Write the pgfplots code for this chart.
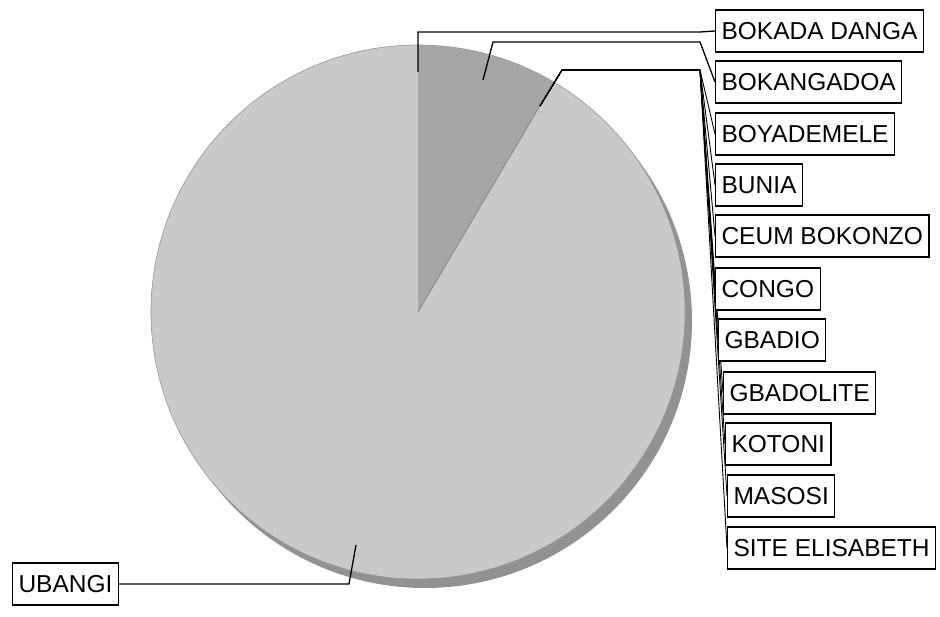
\documentclass[border=0pt]{standalone}
\usepackage{pgfplots}
\usepackage{pgfplotstable}
\pgfplotsset{compat=1.18}
\usepackage{fontspec}
\setmainfont{Liberation Sans}
\definecolor{pielight}{RGB}{201,201,201}
\definecolor{piedark}{RGB}{166,166,166}
\definecolor{pierim}{RGB}{146,146,146}
\definecolor{pieedge}{RGB}{150,150,150}

\pgfplotstableread[col sep=comma]{
name,value
BOKADA DANGA,0
BOKANGADOA,8.5
BOYADEMELE,0
BUNIA,0
CEUM BOKONZO,0
CONGO,0
GBADIO,0
GBADOLITE,0
KOTONI,0
MASOSI,0
SITE ELISABETH,0
UBANGI,91.5
}\piedata

% total and cumulative angles
\xdef\tot{0}
\pgfplotstableforeachcolumnelement{value}\of\piedata\as\v{%
  \pgfmathsetmacro\t{\tot+\v}\xdef\tot{\t}}
\pgfplotstablegetelem{0}{value}\of\piedata\pgfmathsetmacro\cA{\pgfplotsretval}
\pgfplotstablegetelem{1}{value}\of\piedata\pgfmathsetmacro\cB{\cA+\pgfplotsretval}
\pgfplotstablegetelem{11}{value}\of\piedata\pgfmathsetmacro\vU{\pgfplotsretval}
\pgfmathsetmacro\sB{90-360*\cA/\tot}
\pgfmathsetmacro\eB{90-360*\cB/\tot}
\pgfmathsetmacro\sU{90-360*(\tot-\vU)/\tot}
\pgfmathsetmacro\eU{90-360}

\tikzset{lab/.style={draw=black, line width=1.1pt, fill=white, anchor=west,
  font=\fontsize{24.5}{28}\selectfont, inner xsep=6pt, inner ysep=0pt,
  minimum height=42pt, text height=17.5pt, text depth=0pt},
  lead/.style={black, line width=1.3pt}}

\begin{document}
\begin{tikzpicture}
\begin{axis}[scale only axis, width=940pt, height=606pt,
  xmin=0, xmax=940, ymin=-606, ymax=0, hide axis, clip=false]
\path (axis cs:0,0) rectangle (axis cs:940,-606);
% shadow rim
\fill[pierim] (axis cs:425,-321) circle[radius=267pt];
% slices
\fill[pielight] (axis cs:418,-312) -- ++(\sU:267pt) arc[start angle=\sU, end angle=\eU, radius=267pt] -- cycle;
\fill[piedark] (axis cs:418,-312) -- ++(\sB:267pt) arc[start angle=\sB, end angle=\eB, radius=267pt] -- cycle;
\draw[pieedge, line width=0.6pt] (axis cs:418,-312) circle[radius=267pt];
\draw[pieedge!80!black, line width=0.5pt] (axis cs:418,-312) -- ++(\eB:267pt);
% leader lines
\draw[lead] (axis cs:418,-72) -- (axis cs:418,-32) -- (axis cs:700,-32) -- (axis cs:715,-31);
\draw[lead] (axis cs:483,-80) -- (axis cs:493,-42) -- (axis cs:700,-42) -- (axis cs:715,-82);
\foreach \yy/\xx in {134/715,185/715,236/715,289/715,340/718,393/723,444/725,496/727,548/727}{
  \edef\tmp{\noexpand\draw[lead, line width=0.9pt] (axis cs:540,-106) -- (axis cs:562,-70) -- (axis cs:700,-70) -- (axis cs:\xx,-\yy);}\tmp
}
\draw[lead] (axis cs:356,-545) -- (axis cs:349,-584) -- (axis cs:118,-584);
% labels
\node[lab] at (axis cs:715,-31) {BOKADA DANGA};
\node[lab] at (axis cs:715,-82) {BOKANGADOA};
\node[lab] at (axis cs:715,-134) {BOYADEMELE};
\node[lab] at (axis cs:715,-185) {BUNIA};
\node[lab] at (axis cs:715,-236) {CEUM BOKONZO};
\node[lab] at (axis cs:715,-289) {CONGO};
\node[lab] at (axis cs:718,-340) {GBADIO};
\node[lab] at (axis cs:723,-393) {GBADOLITE};
\node[lab] at (axis cs:725,-444) {KOTONI};
\node[lab] at (axis cs:727,-496) {MASOSI};
\node[lab] at (axis cs:727,-548) {SITE ELISABETH};
\node[lab] at (axis cs:12,-584) {UBANGI};
\end{axis}
\end{tikzpicture}
\end{document}
